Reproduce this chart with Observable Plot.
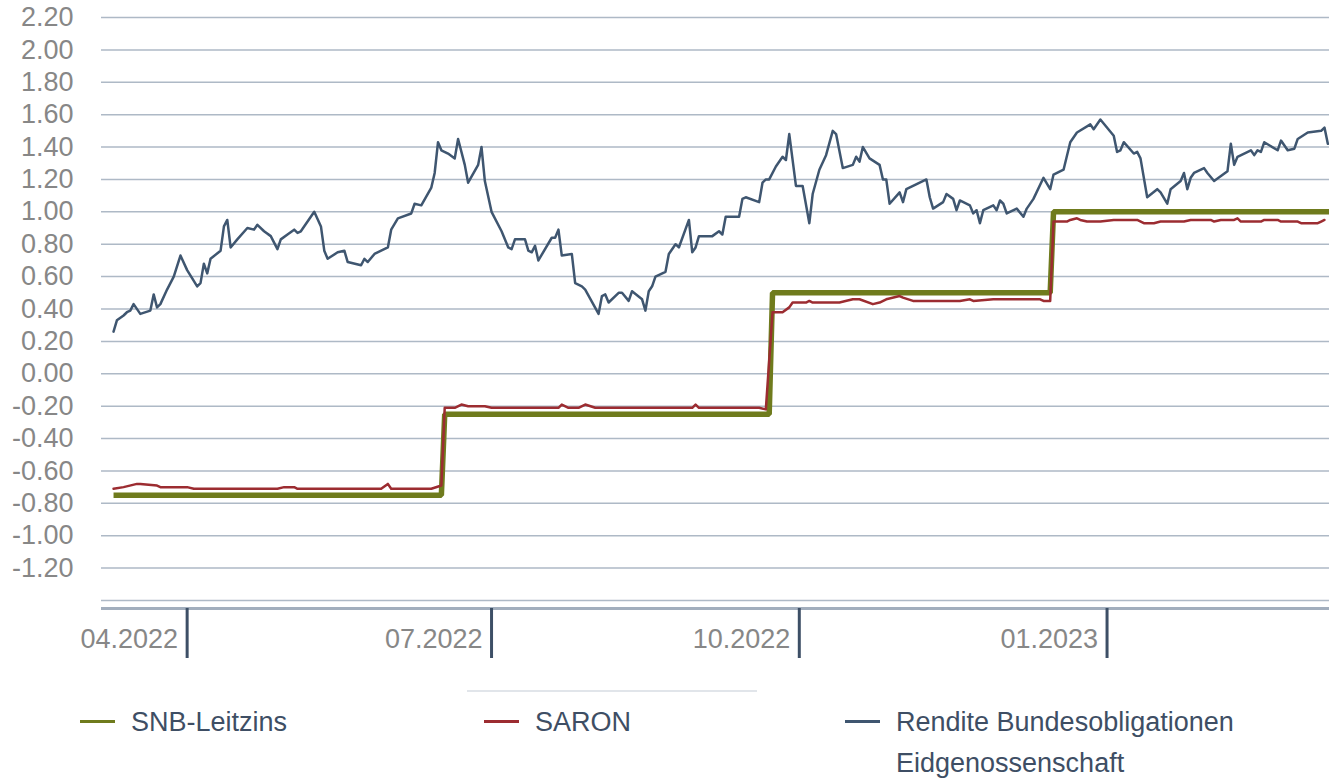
<!DOCTYPE html>
<html><head><meta charset="utf-8">
<script src="https://cdn.jsdelivr.net/npm/d3@7"></script>
<script src="https://cdn.jsdelivr.net/npm/@observablehq/plot@0.6"></script>
<style>
body{margin:0;background:#fff;font-family:"Liberation Sans",Arial,sans-serif;}
#wrap{position:relative;width:1329px;height:780px;overflow:hidden;background:#fff}
#chart svg{display:block}
.lg{position:absolute;font-size:27px;line-height:20px;color:#3e4e64;white-space:nowrap}
.sw{position:absolute;width:35px;height:3px}
.sep{position:absolute;left:467px;top:690px;width:290px;height:2px;background:#e1e5ea}
</style></head><body>
<div id="wrap"><div id="chart"></div><div id="legend"></div></div>
<script>
// ---- Data ----
const seriesNames = ["SNB-Leitzins", "SARON", "Rendite Bundesobligationen Eidgenossenschaft"];
const seriesColors = ["#6f7b1d", "#9c2c31", "#3f5670"];

const snbDates  = ["2022-03-10","2022-06-16","2022-06-17","2022-09-22","2022-09-23","2022-12-15","2022-12-16","2023-03-09"];
const snbValues = [-0.75, -0.75, -0.25, -0.25, 0.50, 0.50, 1.00, 1.00];

const saronDates = ["2022-03-10","2022-03-13","2022-03-17","2022-03-18","2022-03-23","2022-03-24","2022-04-01","2022-04-03","2022-04-28","2022-04-30",
"2022-05-03","2022-05-04","2022-05-29","2022-05-31","2022-06-01","2022-06-13","2022-06-16","2022-06-17","2022-06-20","2022-06-22",
"2022-06-24","2022-06-29","2022-07-01","2022-07-21","2022-07-22","2022-07-24","2022-07-27","2022-07-29","2022-08-01","2022-08-30",
"2022-08-31","2022-09-01","2022-09-19","2022-09-21","2022-09-23","2022-09-26","2022-09-28","2022-09-29","2022-10-03","2022-10-04",
"2022-10-05","2022-10-13","2022-10-17","2022-10-19","2022-10-23","2022-10-25","2022-10-27","2022-10-31","2022-11-01","2022-11-04",
"2022-11-18","2022-11-21","2022-11-22","2022-11-28","2022-12-12","2022-12-13","2022-12-15","2022-12-16","2022-12-20","2022-12-21",
"2022-12-23","2022-12-24","2022-12-26","2022-12-30","2023-01-03","2023-01-10","2023-01-12","2023-01-13","2023-01-15","2023-01-17",
"2023-01-24","2023-01-26","2023-02-01","2023-02-02","2023-02-04","2023-02-08","2023-02-09","2023-02-10","2023-02-16","2023-02-17",
"2023-02-21","2023-02-22","2023-02-27","2023-02-28","2023-03-05","2023-03-06","2023-03-07"];
const saronValues = [-0.71,-0.70,-0.68,-0.68,-0.69,-0.70,-0.70,-0.71,-0.71,-0.70,
-0.70,-0.71,-0.71,-0.68,-0.71,-0.71,-0.69,-0.21,-0.21,-0.19,
-0.20,-0.20,-0.21,-0.21,-0.19,-0.21,-0.21,-0.19,-0.21,-0.21,
-0.19,-0.21,-0.21,-0.22,0.38,0.38,0.41,0.44,0.44,0.45,
0.44,0.44,0.46,0.46,0.43,0.44,0.46,0.48,0.47,0.45,
0.45,0.46,0.45,0.46,0.46,0.45,0.45,0.94,0.94,0.95,
0.96,0.95,0.94,0.94,0.95,0.95,0.93,0.93,0.93,0.94,
0.94,0.95,0.95,0.94,0.95,0.95,0.96,0.94,0.94,0.95,
0.95,0.94,0.94,0.93,0.93,0.94,0.95];

const bondDates = ["2022-03-10","2022-03-11","2022-03-13","2022-03-14","2022-03-15","2022-03-16","2022-03-18","2022-03-21","2022-03-22","2022-03-23",
"2022-03-24","2022-03-26","2022-03-28","2022-03-30","2022-04-01","2022-04-04","2022-04-05","2022-04-06","2022-04-07","2022-04-08",
"2022-04-11","2022-04-12","2022-04-13","2022-04-14","2022-04-16","2022-04-19","2022-04-21","2022-04-22","2022-04-24","2022-04-26",
"2022-04-28","2022-04-29","2022-05-01","2022-05-03","2022-05-04","2022-05-05","2022-05-09","2022-05-11","2022-05-12","2022-05-13",
"2022-05-16","2022-05-18","2022-05-19","2022-05-23","2022-05-24","2022-05-25","2022-05-27","2022-05-29","2022-05-31","2022-06-01",
"2022-06-03","2022-06-07","2022-06-08","2022-06-10","2022-06-13","2022-06-14","2022-06-15","2022-06-16","2022-06-18","2022-06-20",
"2022-06-21","2022-06-23","2022-06-24","2022-06-27","2022-06-28","2022-06-29","2022-07-01","2022-07-04","2022-07-06","2022-07-07",
"2022-07-08","2022-07-11","2022-07-12","2022-07-13","2022-07-14","2022-07-15","2022-07-19","2022-07-20","2022-07-21","2022-07-22",
"2022-07-25","2022-07-26","2022-07-28","2022-07-29","2022-08-02","2022-08-03","2022-08-04","2022-08-05","2022-08-08","2022-08-09",
"2022-08-11","2022-08-12","2022-08-15","2022-08-16","2022-08-17","2022-08-18","2022-08-19","2022-08-22","2022-08-23","2022-08-25",
"2022-08-26","2022-08-29","2022-08-30","2022-08-31","2022-09-01","2022-09-05","2022-09-07","2022-09-08","2022-09-09","2022-09-13",
"2022-09-14","2022-09-15","2022-09-19","2022-09-20","2022-09-21","2022-09-22","2022-09-24","2022-09-26","2022-09-27","2022-09-28",
"2022-09-30","2022-10-02","2022-10-04","2022-10-05","2022-10-07","2022-10-09","2022-10-11","2022-10-12","2022-10-14","2022-10-17",
"2022-10-18","2022-10-19","2022-10-20","2022-10-22","2022-10-25","2022-10-26","2022-10-27","2022-10-28","2022-10-31","2022-11-01",
"2022-11-02","2022-11-04","2022-11-08","2022-11-09","2022-11-10","2022-11-13","2022-11-14","2022-11-16","2022-11-17","2022-11-18",
"2022-11-21","2022-11-22","2022-11-23","2022-11-24","2022-11-25","2022-11-28","2022-11-29","2022-11-30","2022-12-01","2022-12-02",
"2022-12-05","2022-12-07","2022-12-08","2022-12-10","2022-12-13","2022-12-15","2022-12-16","2022-12-19","2022-12-21","2022-12-23",
"2022-12-27","2022-12-28","2022-12-30","2023-01-03","2023-01-04","2023-01-05","2023-01-06","2023-01-09","2023-01-10","2023-01-11",
"2023-01-13","2023-01-16","2023-01-17","2023-01-19","2023-01-20","2023-01-23","2023-01-24","2023-01-25","2023-01-26","2023-01-27",
"2023-01-30","2023-01-31","2023-02-02","2023-02-06","2023-02-07","2023-02-08","2023-02-09","2023-02-13","2023-02-14","2023-02-15",
"2023-02-16","2023-02-17","2023-02-21","2023-02-22","2023-02-24","2023-02-26","2023-02-27","2023-03-02","2023-03-06","2023-03-07",
"2023-03-08"];
const bondValues = [0.26,0.33,0.36,0.38,0.39,0.43,0.37,0.39,0.49,0.41,
0.43,0.52,0.60,0.73,0.64,0.54,0.56,0.68,0.62,0.71,
0.76,0.91,0.95,0.78,0.83,0.90,0.89,0.92,0.88,0.85,
0.77,0.83,0.86,0.89,0.87,0.88,1.00,0.91,0.76,0.71,
0.75,0.76,0.69,0.67,0.71,0.69,0.74,0.76,0.78,0.89,
0.96,0.99,1.05,1.04,1.15,1.24,1.43,1.38,1.36,1.33,
1.45,1.29,1.18,1.29,1.40,1.19,1.00,0.88,0.78,0.77,
0.83,0.83,0.76,0.75,0.79,0.70,0.84,0.84,0.89,0.73,
0.74,0.56,0.54,0.52,0.37,0.48,0.49,0.44,0.50,0.50,
0.45,0.51,0.46,0.39,0.51,0.54,0.60,0.63,0.74,0.80,
0.78,0.95,0.75,0.78,0.85,0.85,0.88,0.86,0.97,0.97,
1.08,1.09,1.06,1.18,1.20,1.20,1.28,1.34,1.32,1.48,
1.16,1.16,0.93,1.11,1.26,1.35,1.50,1.48,1.27,1.29,
1.34,1.31,1.40,1.33,1.29,1.20,1.20,1.05,1.12,1.06,
1.14,1.16,1.20,1.09,1.02,1.06,1.11,1.08,1.01,1.07,
1.04,0.99,1.01,0.93,1.01,1.04,1.01,1.07,1.05,0.99,
1.02,0.97,1.02,1.08,1.21,1.14,1.23,1.26,1.43,1.49,
1.54,1.51,1.57,1.47,1.37,1.38,1.43,1.36,1.37,1.33,
1.09,1.14,1.12,1.05,1.14,1.19,1.24,1.14,1.21,1.24,
1.27,1.24,1.19,1.25,1.42,1.29,1.34,1.38,1.35,1.38,
1.37,1.43,1.38,1.44,1.38,1.39,1.45,1.49,1.50,1.52,
1.42];

const gridTicks  = [-1.4,-1.2,-1.0,-0.8,-0.6,-0.4,-0.2,0,0.2,0.4,0.6,0.8,1.0,1.2,1.4,1.6,1.8,2.0,2.2];
const yLabelTicks = [-1.2,-1.0,-0.8,-0.6,-0.4,-0.2,0,0.2,0.4,0.6,0.8,1.0,1.2,1.4,1.6,1.8,2.0,2.2];
const xTickDates  = ["2022-04-01","2022-07-01","2022-10-01","2023-01-01"];
const xTickLabels = ["04.2022","07.2022","10.2022","01.2023"];

// ---- Build tables ----
const toRows = (dates, values) => dates.map((d, i) => ({date: new Date(d + "T00:00Z"), value: values[i]}));
const snb = toRows(snbDates, snbValues);
const saron = toRows(saronDates, saronValues);
const bond = toRows(bondDates, bondValues);
const xTicks = xTickDates.map(d => new Date(d + "T00:00Z"));
const labelOf = new Map(xTicks.map((d, i) => [d.getTime(), xTickLabels[i]]));

const yMin = -1.4494; // baseline sits a few pixels below the last grid line
const chart = Plot.plot({
  width: 1329, height: 670,
  marginTop: 17, marginLeft: 101, marginRight: 0, marginBottom: 62,
  style: {fontFamily: "'Liberation Sans', Arial, sans-serif", fontSize: "27px", background: "#fff", overflow: "visible"},
  x: {type: "utc", domain: [new Date("2022-03-06T09:36Z"), new Date("2023-03-08T12:00Z")], label: null},
  y: {domain: [yMin, 2.2], label: null},
  marks: [
    Plot.gridY(gridTicks, {stroke: "#aeb9c6", strokeOpacity: 1, strokeWidth: 1.5}),
    Plot.ruleY([yMin], {stroke: "#a2aebd", strokeWidth: 3}),
    Plot.axisY(yLabelTicks, {tickSize: 0, tickPadding: 28, tickFormat: d => d.toFixed(2), fill: "#878787", label: null}),
    Plot.axisX(xTicks, {tickSize: 50, stroke: "#3d4f66", strokeWidth: 3, fill: "none", label: null}),
    Plot.axisX(xTicks, {tickSize: 0, tickPadding: 20, tickFormat: d => labelOf.get(d.getTime()), textAnchor: "end", dx: -9, fill: "#878787", label: null}),
    Plot.line(snb, {x: "date", y: "value", stroke: seriesColors[0], strokeWidth: 5.5, strokeLinejoin: "miter", strokeLinecap: "butt"}),
    Plot.line(saron, {x: "date", y: "value", stroke: seriesColors[1], strokeWidth: 2.5}),
    Plot.line(bond, {x: "date", y: "value", stroke: seriesColors[2], strokeWidth: 2.5})
  ]
});
document.getElementById("chart").appendChild(chart);

// ---- Legend (HTML, below the SVG) ----
const legend = document.getElementById("legend");
const items = [
  {sw: 80, tx: 131, lines: [seriesNames[0]]},
  {sw: 484, tx: 535, lines: [seriesNames[1]]},
  {sw: 845, tx: 896, lines: ["Rendite Bundesobligationen", "Eidgenossenschaft"]}
];
legend.innerHTML = '<div class="sep"></div>' + items.map((it, k) =>
  `<div class="sw" style="left:${it.sw}px;top:720px;background:${seriesColors[k]}"></div>` +
  it.lines.map((t, j) => `<div class="lg" style="left:${it.tx}px;top:${712 + j * 41}px">${t}</div>`).join("")
).join("");
</script>
</body></html>
